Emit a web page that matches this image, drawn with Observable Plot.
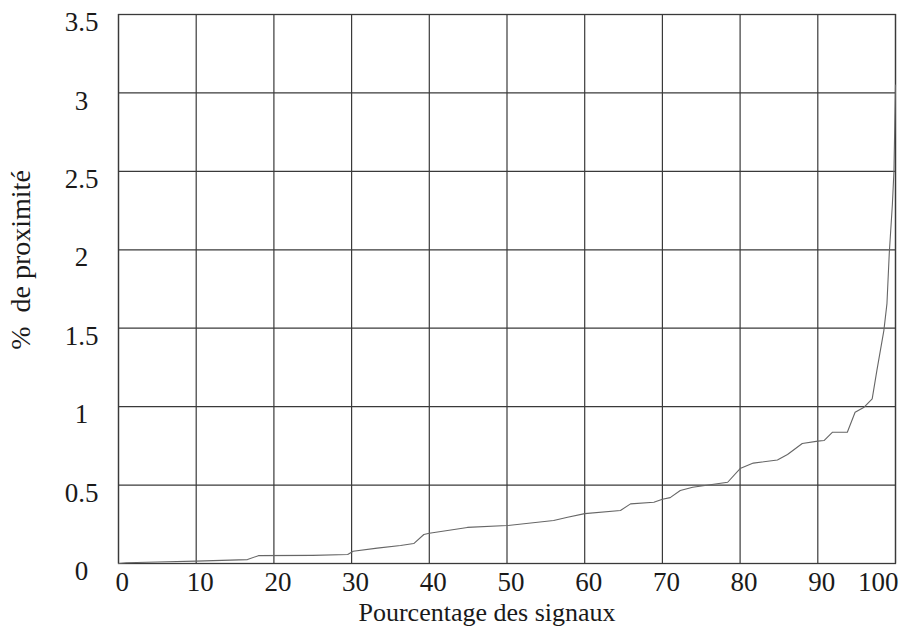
<!DOCTYPE html>
<html>
<head>
<meta charset="utf-8">
<script src="https://cdn.jsdelivr.net/npm/d3@7"></script>
<script src="https://cdn.jsdelivr.net/npm/@observablehq/plot@0.6"></script>
<style>
  html, body { margin: 0; padding: 0; background: #fff; }
  #chart svg { display: block; }
  #chart text { white-space: pre; }
</style>
</head>
<body>
<div id="chart"></div>
<script>
// Pourcentage des signaux (x) vs % de proximité (y)
const pctSignals = [0, 1, 5, 10, 16.6, 18, 25, 29.5, 30.2, 33.3, 36.3, 38, 39.3, 40, 44.9, 50, 56, 57.8, 60, 64.6, 65.9, 68.9, 70, 71, 72.3, 73.9, 78.4, 80, 81.7, 84.8, 86.1, 88, 90, 90.8, 91.9, 93.8, 94.8, 95.9, 97, 97.6, 98.5, 98.9, 99.2, 99.6, 99.8, 100];
const pctProximity = [0.0, 0.005, 0.01, 0.015, 0.025, 0.05, 0.052, 0.057, 0.078, 0.098, 0.115, 0.127, 0.185, 0.193, 0.23, 0.242, 0.274, 0.295, 0.318, 0.338, 0.38, 0.39, 0.41, 0.42, 0.465, 0.486, 0.518, 0.605, 0.64, 0.66, 0.695, 0.765, 0.78, 0.784, 0.837, 0.837, 0.964, 0.994, 1.05, 1.23, 1.485, 1.657, 1.98, 2.29, 2.5, 3.05];
const xTicksMid = [10, 20, 30, 40, 50, 60, 70, 80, 90];
const xTickFirst = [0];
const xTickLast = [100];
const xGrid = [0, 10, 20, 30, 40, 50, 60, 70, 80, 90, 100];
const yTicks = [0, 0.5, 1, 1.5, 2, 2.5, 3, 3.5];
const xLabel = "Pourcentage des signaux";
const yLabel = "%  de proximité";

const data = pctSignals.map((x, i) => ({x, y: pctProximity[i]}));

const gridColor = "#3a3a3a";
const fs = 27;

const chart = Plot.plot({
  width: 904,
  height: 631,
  marginLeft: 118,
  marginRight: 9,
  marginTop: 14,
  marginBottom: 68,
  style: {fontFamily: "'Liberation Serif', 'Times New Roman', serif", color: "#1a1a1a", background: "#fff"},
  x: {domain: [0, 100]},
  y: {domain: [0, 3.5]},
  marks: [
    Plot.ruleX(xGrid, {stroke: gridColor, strokeWidth: 1.2, strokeOpacity: 1}),
    Plot.ruleY(yTicks, {stroke: gridColor, strokeWidth: 1.2, strokeOpacity: 1}),
    Plot.frame({stroke: gridColor, strokeWidth: 1.3}),
    Plot.line(data, {x: "x", y: "y", stroke: "#666", strokeWidth: 1.1}),
    Plot.axisY(yTicks, {tickSize: 0, textAnchor: "middle", dx: -28, dy: 8, fontSize: fs, label: null, tickFormat: d => String(d)}),
    Plot.axisX(xTicksMid, {tickSize: 0, tickPadding: 8, dx: 4, fontSize: fs, label: null}),
    Plot.axisX(xTickFirst, {tickSize: 0, tickPadding: 8, textAnchor: "start", dx: -3, fontSize: fs, label: null}),
    Plot.axisX(xTickLast, {tickSize: 0, tickPadding: 8, textAnchor: "end", dx: 3, fontSize: fs, label: null}),
    Plot.text([xLabel], {frameAnchor: "bottom", text: d => d, dy: 39, fontSize: 26, lineAnchor: "top", dx: -20}),
    Plot.text([yLabel], {frameAnchor: "left", textAnchor: "middle", text: d => d, rotate: -90, dx: -89, dy: -29, fontSize: 28, lineAnchor: "bottom", letterSpacing: 1})
  ]
});
document.getElementById("chart").appendChild(chart);
</script>
</body>
</html>
